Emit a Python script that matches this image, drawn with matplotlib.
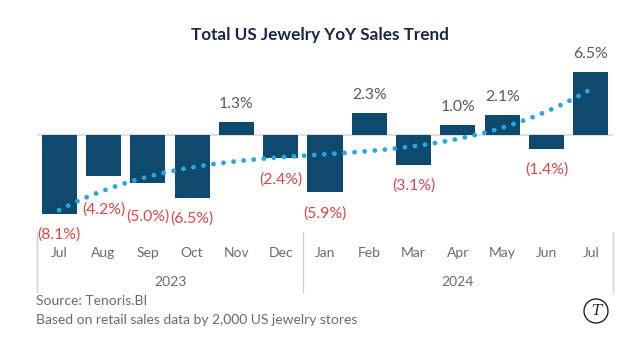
import numpy as np
import matplotlib
matplotlib.use("Agg")
import matplotlib.pyplot as plt
from matplotlib.lines import Line2D
from matplotlib.patches import Ellipse

plt.rcParams['font.family'] = ['Lato', 'DejaVu Sans']

# Monthly year-over-year sales change, Jul 2023 - Jul 2024 (percent)
months = ["Jul", "Aug", "Sep", "Oct", "Nov", "Dec",
          "Jan", "Feb", "Mar", "Apr", "May", "Jun", "Jul"]
years = ["2023", "2024"]
months_per_year = [6, 7]
yoy_change = [-8.1, -4.2, -5.0, -6.5, 1.3, -2.4,
              -5.9, 2.3, -3.1, 1.0, 2.1, -1.4, 6.5]

BAR = "#0d4a6e"
TREND = "#2aa5de"
NEG = "#d6474b"
POS = "#595959"
AXIS_TXT = "#6a6a6a"

fig = plt.figure(figsize=(6.4, 3.47), dpi=100)
W, H = 640, 347
ax = fig.add_axes([37 / W, 1 - 232 / H, (613 - 37) / W, (232 - 57.4) / H])

x = np.arange(len(months))
y = np.array(yoy_change)
ax.bar(x, y, width=0.79, color=BAR, zorder=2)

# third-order polynomial trend line
coef = np.polyfit(x, y, 3)
xs = np.linspace(0, len(months) - 1, 400)
ax.plot(xs, np.polyval(coef, xs), color=TREND, lw=3.5,
        linestyle=(0, (0.001, 2.08)), dash_capstyle="round", zorder=3)

ax.axhline(0, color="#d9d9d9", lw=1.2, zorder=1)
ax.set_xlim(-0.5, len(months) - 0.5)
ax.set_ylim(-10, 8)
ax.axis("off")

# value labels; two negative labels sit lower to clear the trend line
extra_drop = {1: 9, 2: 9}
for i, v in enumerate(yoy_change):
    if v >= 0:
        ax.annotate(f"{v:.1f}%", (i, v), xytext=(0, 13), textcoords="offset points",
                    ha="center", va="center", fontsize=11.3, color=POS)
    else:
        ax.annotate(f"({abs(v):.1f}%)", (i, v),
                    xytext=(0, -15 - extra_drop.get(i, 0)), textcoords="offset points",
                    ha="center", va="center", fontsize=11.3, color=NEG)

# two-level category axis: months, then years with separators
for i, m in enumerate(months):
    px = ax.transData.transform((i, 0))[0]
    fig.text(px / W, 1 - 253 / H, m, ha="center", va="center", fontsize=10, color=AXIS_TXT)

start = 0
bounds = [-0.5]
for yr, n in zip(years, months_per_year):
    mid = start + (n - 1) / 2
    px = ax.transData.transform((mid, 0))[0]
    fig.text(px / W, 1 - 282 / H, yr, ha="center", va="center", fontsize=10, color=AXIS_TXT)
    start += n
    bounds.append(start - 0.5)
for b in bounds:
    px = ax.transData.transform((b, 0))[0]
    fig.add_artist(Line2D([px / W, px / W], [1 - 232 / H, 1 - 292 / H],
                          color="#d0d0d0", lw=1.0))

fig.text(0.5, 1 - 35 / H, "Total US Jewelry YoY Sales Trend", ha="center", va="center",
         fontsize=12.3, fontweight="bold", color="#1a2547")

fig.text(36 / W, 1 - 301 / H, "Source: Tenoris.BI", ha="left", va="center",
         fontsize=10, color=AXIS_TXT)
fig.text(36 / W, 1 - 320 / H, "Based on retail sales data by 2,000 US jewelry stores",
         ha="left", va="center", fontsize=10, color=AXIS_TXT)

# brand mark
fig.add_artist(Ellipse((596 / W, 1 - 311 / H), 24 / W, 24 / H, fill=False,
                       edgecolor="#222222", lw=1.0))
fig.text(596 / W, 1 - 311 / H, "T", ha="center", va="center", fontsize=11,
         family="DejaVu Serif", style="italic", color="#222222")

fig.savefig("out.png", dpi=100, facecolor="white")
